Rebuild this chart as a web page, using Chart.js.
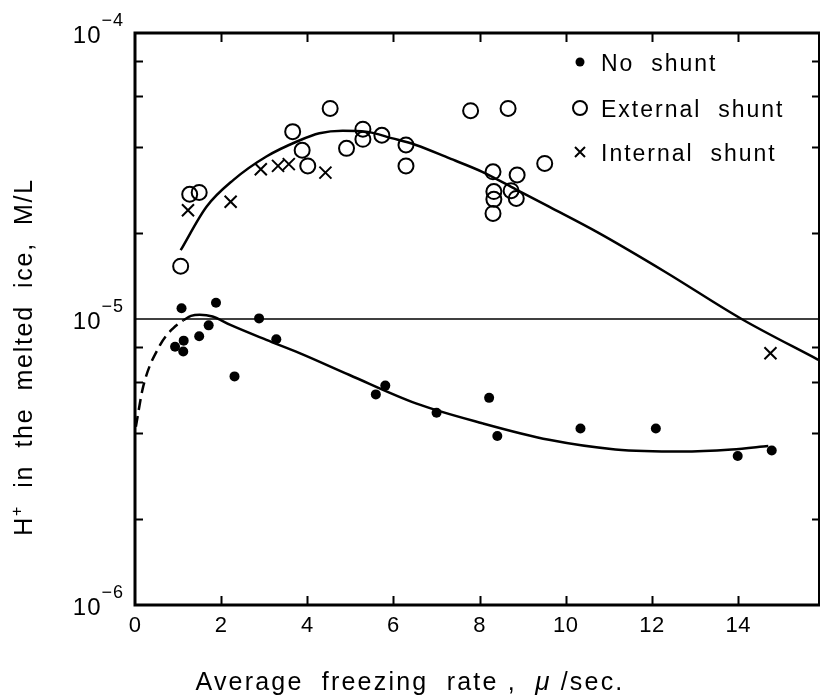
<!DOCTYPE html>
<html>
<head>
<meta charset="utf-8">
<script src="https://cdn.jsdelivr.net/npm/chart.js@4"></script>
<style>
  html, body { margin: 0; padding: 0; background: #fff; }
</style>
</head>
<body>
<canvas id="iceChart" width="822" height="696"></canvas>
<script>
// freezing rate (micron/sec) vs H+ concentration (M/L)
const noShuntX = [0.93, 1.08, 1.12, 1.13, 1.49, 1.71, 1.88, 2.31, 2.88, 3.28, 5.59, 5.81, 7.0, 8.22, 8.41, 10.34, 12.09, 13.99, 14.78];
const noShuntY = [8.0e-6, 1.09e-5, 7.7e-6, 8.4e-6, 8.7e-6, 9.5e-6, 1.14e-5, 6.3e-6, 1.005e-5, 8.5e-6, 5.45e-6, 5.85e-6, 4.7e-6, 5.3e-6, 3.9e-6, 4.14e-6, 4.14e-6, 3.32e-6, 3.47e-6];

const externalX = [1.06, 1.27, 1.49, 3.66, 3.88, 4.01, 4.53, 4.91, 5.29, 5.29, 5.73, 6.29, 6.29, 7.79, 8.31, 8.33, 8.33, 8.31, 8.73, 8.87, 8.85, 8.66, 9.51];
const externalY = [1.53e-5, 2.73e-5, 2.77e-5, 4.52e-5, 3.89e-5, 3.43e-5, 5.45e-5, 3.95e-5, 4.61e-5, 4.25e-5, 4.39e-5, 4.06e-5, 3.43e-5, 5.35e-5, 3.27e-5, 2.79e-5, 2.62e-5, 2.34e-5, 2.81e-5, 3.19e-5, 2.64e-5, 5.45e-5, 3.5e-5];

const internalX = [1.23, 2.22, 2.92, 3.32, 3.57, 4.42, 14.75];
const internalY = [2.4e-5, 2.57e-5, 3.34e-5, 3.43e-5, 3.48e-5, 3.25e-5, 7.59e-6];

// fitted curves
const upperX = [1.06, 1.66, 2.28, 3.05, 3.8, 4.28, 4.82, 5.36, 5.98, 6.52, 7.29, 8.06, 8.84, 9.61, 10.76, 12.31, 14.08, 15.86];
const upperY = [1.74e-5, 2.47e-5, 3.06e-5, 3.7e-5, 4.2e-5, 4.46e-5, 4.55e-5, 4.52e-5, 4.28e-5, 4.06e-5, 3.65e-5, 3.27e-5, 2.84e-5, 2.47e-5, 2.0e-5, 1.46e-5, 1.0e-5, 7.2e-6];

const lowerDashX = [0.02, 0.19, 0.58, 0.89, 1.12];
const lowerDashY = [4.2e-6, 5.8e-6, 8.1e-6, 9.3e-6, 9.9e-6];

const lowerX = [1.12, 1.3, 1.5, 1.8, 2.2, 3.05, 3.82, 4.98, 6.52, 8.06, 9.61, 11.15, 12.69, 13.85, 14.7];
const lowerY = [9.9e-6, 1.025e-5, 1.035e-5, 1.02e-5, 9.55e-6, 8.45e-6, 7.6e-6, 6.37e-6, 5.07e-6, 4.32e-6, 3.78e-6, 3.5e-6, 3.44e-6, 3.5e-6, 3.6e-6];

const refX = [0, 15.9];
const refY = [1e-5, 1e-5];

// axes
const xMin = 0, xMax = 15.9;
const xTicks = [0, 2, 4, 6, 8, 10, 12, 14];
const yDecades = [-6, -5, -4];
const yMinorTicks = [2e-6, 4e-6, 6e-6, 8e-6, 2e-5, 4e-5, 6e-5, 8e-5];

const legendLabels = ['No  shunt', 'External  shunt', 'Internal  shunt'];

const FONT = '"Liberation Sans", Arial, sans-serif';

function pts(xs, ys) {
  return xs.map((x, i) => ({ x: x, y: ys[i] }));
}

// draws a row of text pieces (for superscripts) anchored at x
function drawRuns(ctx, runs, x0, baseY, spacing, align) {
  ctx.letterSpacing = spacing + 'px';
  let total = 0;
  runs.forEach(r => {
    ctx.font = (r.style || '') + ' ' + r.size + 'px ' + FONT;
    r.w = ctx.measureText(r.t).width;
    total += r.w;
  });
  let x = x0;
  if (align === 'right') x = x0 - total;
  else if (align === 'center') x = x0 - total / 2;
  ctx.textAlign = 'left';
  ctx.textBaseline = 'alphabetic';
  runs.forEach(r => {
    ctx.font = (r.style || '') + ' ' + r.size + 'px ' + FONT;
    ctx.fillText(r.t, x, baseY + (r.dy || 0));
    x += r.w;
  });
  ctx.letterSpacing = '0px';
}

const framePlugin = {
  id: 'frame',
  afterDraw(chart) {
    const ctx = chart.ctx;
    const a = chart.chartArea;
    const xs = chart.scales.x, ys = chart.scales.y;
    ctx.save();
    ctx.strokeStyle = '#000';
    ctx.fillStyle = '#000';

    // box
    ctx.lineWidth = 3;
    ctx.beginPath();
    ctx.moveTo(a.right, a.top);
    ctx.lineTo(a.left, a.top);
    ctx.lineTo(a.left, a.bottom);
    ctx.lineTo(a.right, a.bottom);
    ctx.stroke();
    ctx.lineWidth = 2;
    ctx.beginPath();
    ctx.moveTo(a.right - 1, a.top);
    ctx.lineTo(a.right - 1, a.bottom);
    ctx.stroke();

    // inward ticks
    ctx.lineWidth = 2;
    ctx.beginPath();
    xTicks.forEach(v => {
      if (v === 0) return;
      const px = Math.round(xs.getPixelForValue(v)) + 0.5;
      ctx.moveTo(px, a.bottom); ctx.lineTo(px, a.bottom - 9);
      ctx.moveTo(px, a.top); ctx.lineTo(px, a.top + 9);
    });
    yMinorTicks.forEach(v => {
      const py = Math.round(ys.getPixelForValue(v)) + 0.5;
      ctx.moveTo(a.left, py); ctx.lineTo(a.left + 8, py);
      ctx.moveTo(a.right, py); ctx.lineTo(a.right - 8, py);
    });
    ctx.stroke();

    // tick labels
    xTicks.forEach(v => {
      drawRuns(ctx, [{ t: String(v), size: 22 }], xs.getPixelForValue(v), a.bottom + 27, 0.5, 'center');
    });
    yDecades.forEach(e => {
      const py = ys.getPixelForValue(Math.pow(10, e));
      drawRuns(ctx, [
        { t: '10', size: 24 },
        { t: '\u2212' + Math.abs(e), size: 18, dy: -17 }
      ], 124, py + 10, 1, 'right');
    });

    // axis titles
    drawRuns(ctx, [
      { t: 'Average  freezing  rate ,  ', size: 25 },
      { t: '\u03bc', size: 26, style: 'italic' },
      { t: ' /sec.', size: 25 }
    ], 410, 690, 2.2, 'center');
    ctx.save();
    ctx.translate(32, 357);
    ctx.rotate(-Math.PI / 2);
    drawRuns(ctx, [
      { t: 'H', size: 25 },
      { t: '+', size: 16, dy: -10 },
      { t: '  in  the  melted  ice,  M/L', size: 25 }
    ], 0, 0, 1.7, 'center');
    ctx.restore();

    // legend
    const lx = 580, rows = [62, 108, 152];
    ctx.beginPath();
    ctx.arc(lx, rows[0], 4.5, 0, Math.PI * 2);
    ctx.fill();
    ctx.lineWidth = 2;
    ctx.beginPath();
    ctx.arc(lx, rows[1], 7, 0, Math.PI * 2);
    ctx.stroke();
    ctx.beginPath();
    ctx.moveTo(lx - 5, rows[2] - 5); ctx.lineTo(lx + 5, rows[2] + 5);
    ctx.moveTo(lx - 5, rows[2] + 5); ctx.lineTo(lx + 5, rows[2] - 5);
    ctx.stroke();
    legendLabels.forEach((t, i) => {
      drawRuns(ctx, [{ t: t, size: 23 }], 601, rows[i] + 9, 2, 'left');
    });
    ctx.restore();
  }
};

new Chart(document.getElementById('iceChart'), {
  type: 'scatter',
  data: {
    datasets: [
      {
        label: 'No shunt',
        data: pts(noShuntX, noShuntY),
        pointStyle: 'circle',
        pointRadius: 5,
        backgroundColor: '#000',
        borderColor: '#000',
        borderWidth: 0
      },
      {
        label: 'External shunt',
        data: pts(externalX, externalY),
        pointStyle: 'circle',
        pointRadius: 7.5,
        backgroundColor: 'rgba(0,0,0,0)',
        borderColor: '#000',
        borderWidth: 2
      },
      {
        label: 'Internal shunt',
        data: pts(internalX, internalY),
        pointStyle: 'crossRot',
        pointRadius: 8.5,
        borderColor: '#000',
        borderWidth: 2
      },
      {
        type: 'line',
        data: pts(upperX, upperY),
        borderColor: '#000',
        borderWidth: 2.5,
        pointRadius: 0,
        cubicInterpolationMode: 'monotone'
      },
      {
        type: 'line',
        data: pts(lowerX, lowerY),
        borderColor: '#000',
        borderWidth: 2.5,
        pointRadius: 0,
        cubicInterpolationMode: 'monotone'
      },
      {
        type: 'line',
        data: pts(lowerDashX, lowerDashY),
        borderColor: '#000',
        borderWidth: 2.5,
        borderDash: [11, 6],
        pointRadius: 0,
        cubicInterpolationMode: 'monotone'
      },
      {
        type: 'line',
        data: pts(refX, refY),
        borderColor: '#000',
        borderWidth: 1.5,
        pointRadius: 0
      }
    ]
  },
  options: {
    responsive: false,
    animation: false,
    devicePixelRatio: 1,
    layout: { autoPadding: false, padding: { left: 135, top: 33, right: 2, bottom: 91 } },
    plugins: {
      legend: { display: false },
      tooltip: { enabled: false }
    },
    scales: {
      x: { type: 'linear', min: xMin, max: xMax, display: false },
      y: { type: 'logarithmic', min: 1e-6, max: 1e-4, display: false }
    }
  },
  plugins: [framePlugin]
});
</script>
</body>
</html>
